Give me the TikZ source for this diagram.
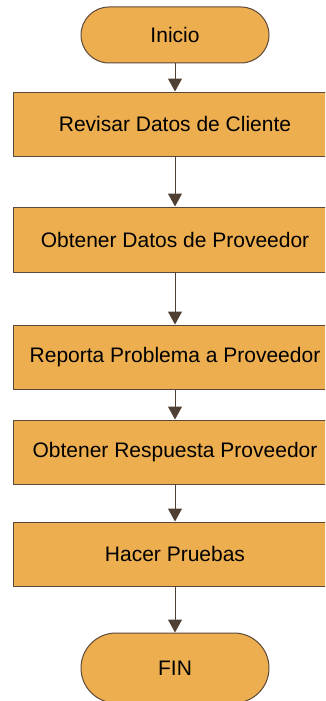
\documentclass[tikz,border=0pt]{standalone}
\usepackage{fontspec}
\setmainfont{Liberation Sans}
\usetikzlibrary{arrows.meta}
\definecolor{caja}{RGB}{237,174,80}
\definecolor{borde}{RGB}{92,72,58}
\definecolor{flecha}{RGB}{80,64,52}
\tikzset{
  paso/.style={draw=borde, fill=caja, line width=1pt, minimum width=324pt,
    minimum height=64pt, inner sep=0pt, font=\fontsize{21}{25}\selectfont},
  terminal/.style={draw=borde, fill=caja, line width=1pt, minimum width=188pt,
    minimum height=56pt, rounded corners=28pt, inner sep=0pt,
    font=\fontsize{21}{25}\selectfont},
  flujo/.style={draw=flecha, line width=1pt, -{Triangle[width=14pt,length=13pt]}}
}

\begin{document}
\begin{tikzpicture}[x=1pt,y=-1pt]
      \clip (0,0) rectangle (325,701);
      \node[terminal] (n1) at (175,35) {Inicio};
      \node[paso] (n2) at (175,124) {Revisar Datos de Cliente};
      \node[paso, minimum height=65pt] (n3) at (175,239.5) {Obtener Datos de Proveedor};
      \node[paso] (n4) at (175,357) {Reporta Problema a Proveedor};
      \node[paso] (n5) at (175,452) {Obtener Respuesta Proveedor};
      \node[paso] (n6) at (175,554) {Hacer Pruebas};
      \node[terminal, minimum height=70pt, rounded corners=35pt] (n7) at (175,668) {FIN};
      \foreach \i/\j in {1/2, 2/3, 3/4, 4/5, 5/6, 6/7} {
	\path[flujo] (n\i) -- (n\j);
      };
    \end{tikzpicture}
\end{document}
